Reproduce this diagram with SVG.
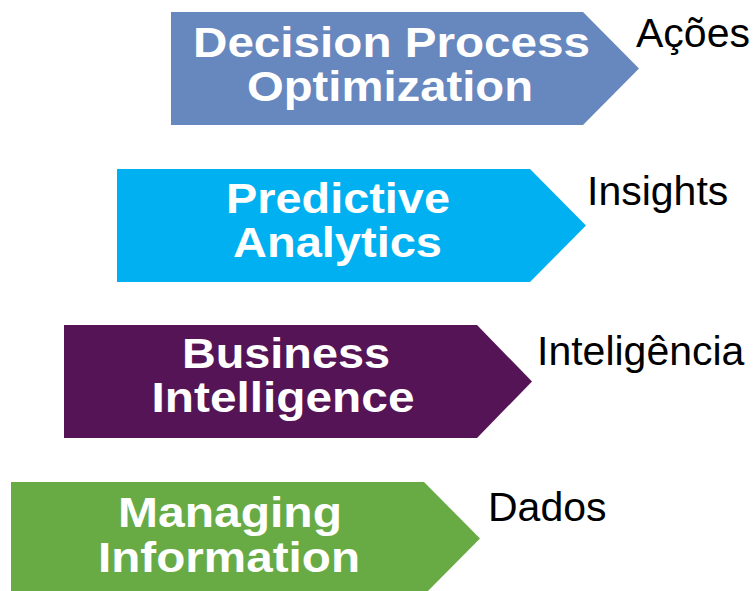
<svg xmlns="http://www.w3.org/2000/svg" width="755" height="591" viewBox="0 0 755 591">
<style>
.t{font-family:"Liberation Sans",Arial,sans-serif;font-weight:bold;font-size:43px;fill:#ffffff;text-anchor:middle}
.l{font-family:"Liberation Sans",Arial,sans-serif;font-size:41px;fill:#000000}
</style>
<rect width="755" height="591" fill="#ffffff"/>
<g id="decision-process-optimization">
<polygon points="171,12 583,12 639,68.5 583,125 171,125" fill="#6787BF"/>
<text class="t" x="391.5" y="57" textLength="397" lengthAdjust="spacingAndGlyphs">Decision Process</text>
<text class="t" x="390" y="101" textLength="286" lengthAdjust="spacingAndGlyphs">Optimization</text>
</g>
<g id="predictive-analytics">
<polygon points="117,169 530,169 586,225.5 530,282 117,282" fill="#00B0F0"/>
<text class="t" x="338" y="213" textLength="224" lengthAdjust="spacingAndGlyphs">Predictive</text>
<text class="t" x="337.5" y="257" textLength="209" lengthAdjust="spacingAndGlyphs">Analytics</text>
</g>
<g id="business-intelligence">
<polygon points="64,325 477,325 532,381.5 477,438 64,438" fill="#551455"/>
<text class="t" x="286" y="368" textLength="208" lengthAdjust="spacingAndGlyphs">Business</text>
<text class="t" x="283" y="412" textLength="263" lengthAdjust="spacingAndGlyphs">Intelligence</text>
</g>
<g id="managing-information">
<polygon points="11,482 424,482 480,538.5 424,595 11,595" fill="#68AB45"/>
<text class="t" x="230" y="527" textLength="224" lengthAdjust="spacingAndGlyphs">Managing</text>
<text class="t" x="229" y="572" textLength="262" lengthAdjust="spacingAndGlyphs">Information</text>
</g>
<g id="labels">
<text class="l" x="636" y="47">Ações</text>
<text class="l" x="587" y="205">Insights</text>
<text class="l" x="537" y="365">Inteligência</text>
<text class="l" x="488" y="521">Dados</text>
</g>
<g id="connectors"></g>
</svg>
